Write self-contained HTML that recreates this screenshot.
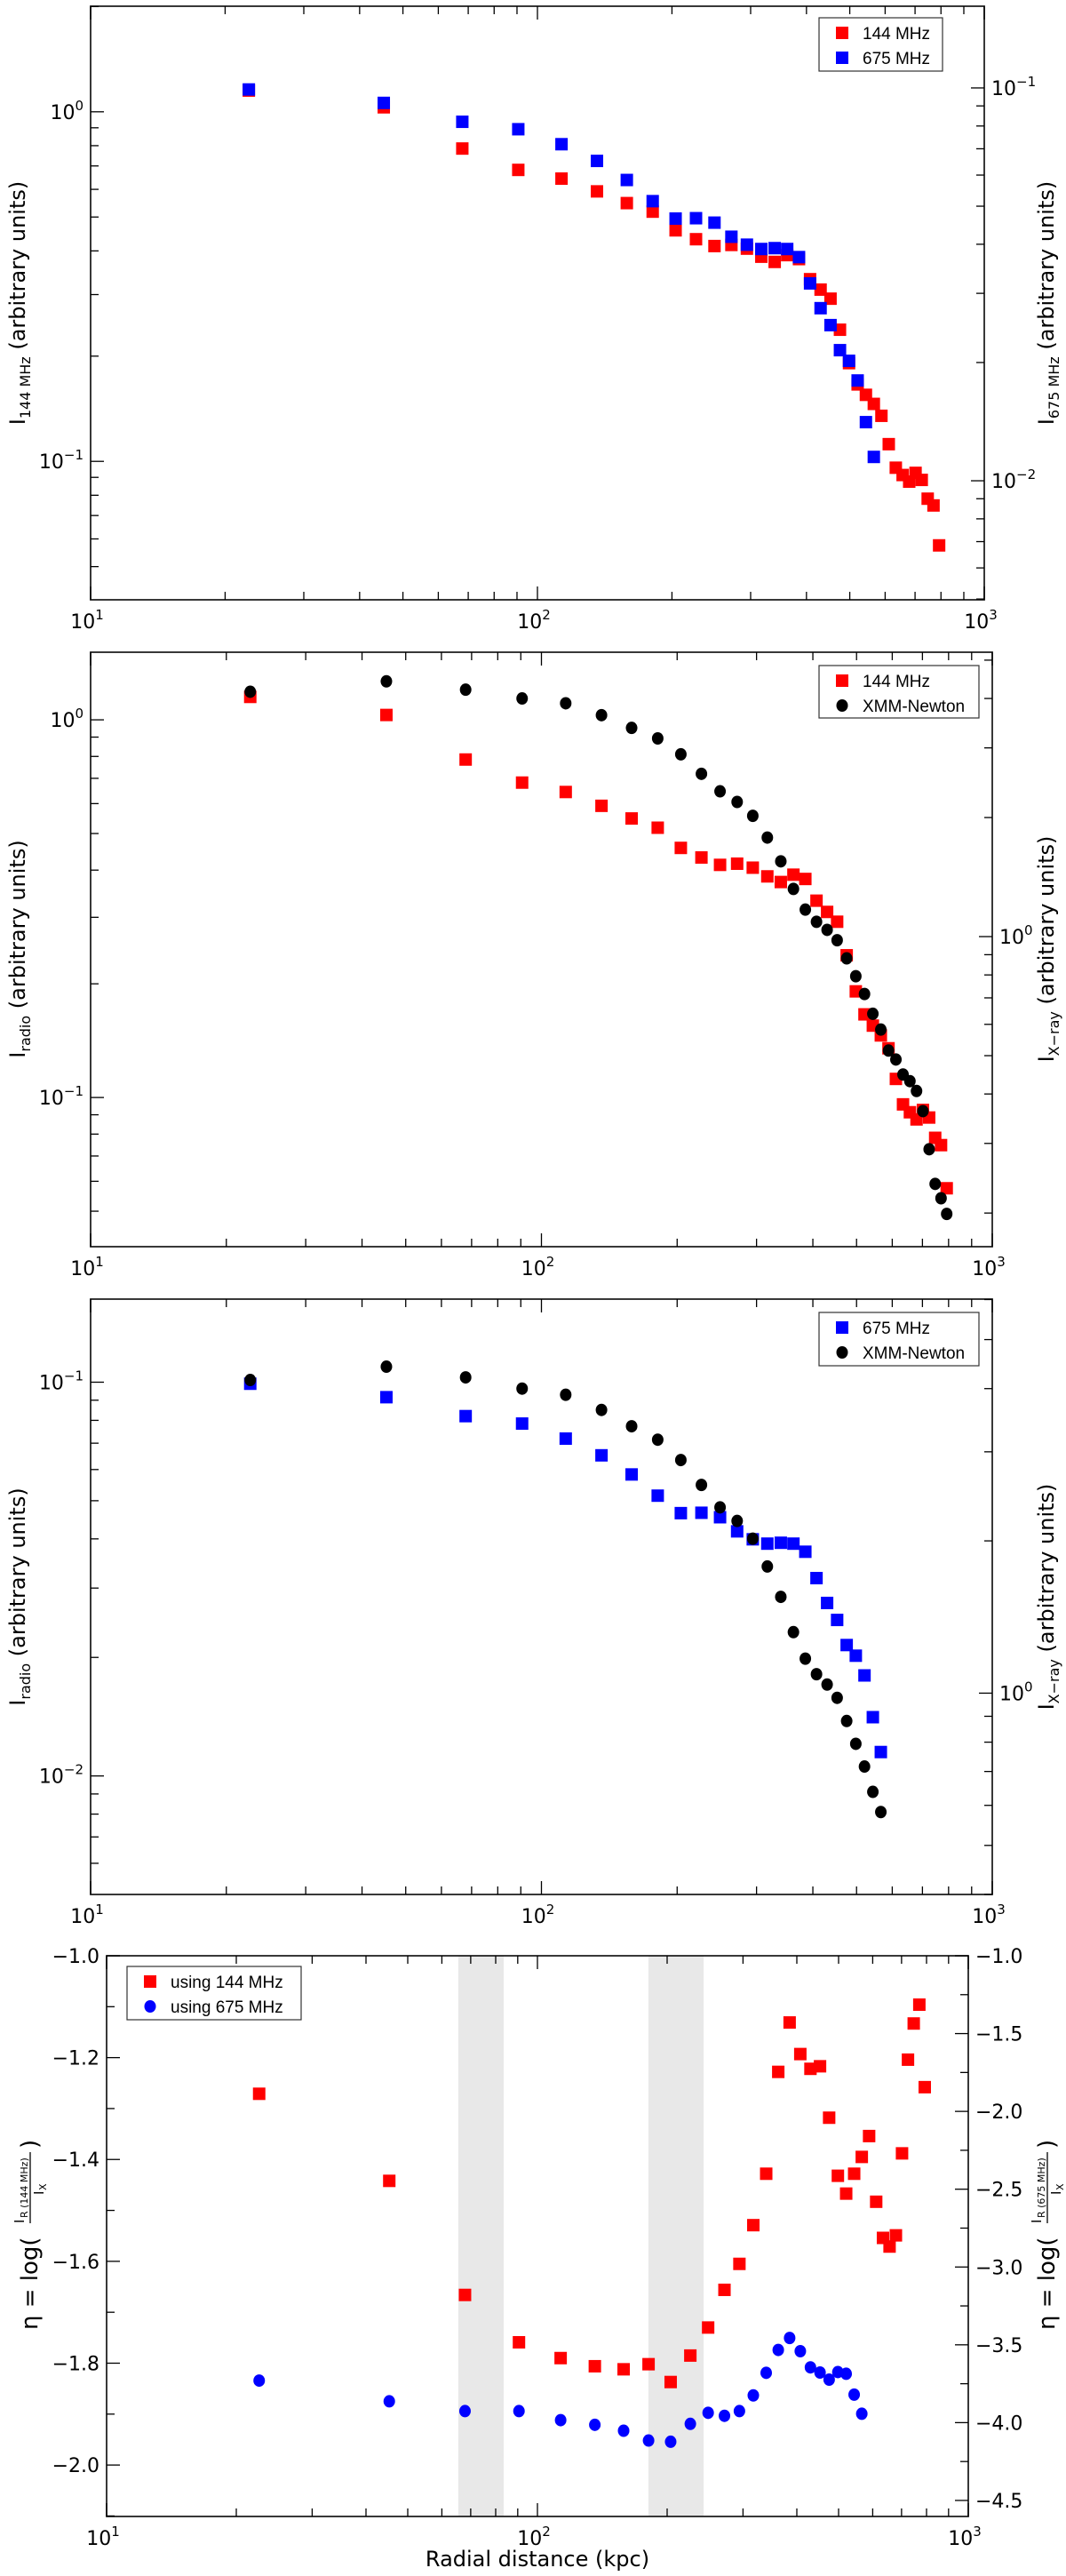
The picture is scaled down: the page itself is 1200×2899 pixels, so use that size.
<!DOCTYPE html>
<html><head><meta charset="utf-8"><title>Radial profiles</title>
<style>
html,body{margin:0;padding:0;background:#fff;}
svg{display:block;font-family:"DejaVu Sans","Liberation Sans",sans-serif;}
.leg{font-family:"Liberation Sans Narrow","Liberation Sans",sans-serif;}
</style></head>
<body>
<svg id="fig" width="1200" height="2899" viewBox="0 0 1200 2899" xmlns="http://www.w3.org/2000/svg"></svg>
<script>
// ---- data ----
const radii=[22.6,45.3,67.9,90.6,113.2,135.9,158.5,181.1,203.8,226.4,249.0,271.7,294.3,317.0,339.6,362.2,384.9,407.5,430.2,452.8,475.4,498.1,520.7,543.4,566.0,588.6,611.3,633.9,656.6,679.2,701.8,724.5,747.1,769.8,792.4];
const radio144=[1.15,1.03,0.785,0.682,0.644,0.592,0.548,0.518,0.458,0.432,0.413,0.416,0.406,0.385,0.372,0.389,0.379,0.332,0.310,0.292,0.238,0.191,0.166,0.155,0.146,0.135,0.112,0.0959,0.0914,0.0875,0.0927,0.0885,0.0782,0.0748,0.0575];
const radio675=[0.0991,0.0916,0.0820,0.0785,0.0719,0.0652,0.0583,0.0515,0.0465,0.0466,0.0454,0.0418,0.0399,0.0389,0.0391,0.0389,0.0371,0.0318,0.0275,0.0249,0.0215,0.0202,0.0180,0.0141,0.0115];
const xray=[4.16,4.42,4.21,4.00,3.89,3.63,3.37,3.17,2.89,2.58,2.33,2.19,2.02,1.78,1.55,1.32,1.17,1.09,1.04,0.979,0.881,0.794,0.716,0.638,0.582,0.515,0.489,0.448,0.431,0.407,0.362,0.290,0.237,0.218,0.199];
const eta144=[-1.271,-1.442,-1.666,-1.759,-1.790,-1.806,-1.812,-1.802,-1.837,-1.785,-1.730,-1.656,-1.605,-1.529,-1.428,-1.228,-1.131,-1.193,-1.222,-1.217,-1.318,-1.432,-1.467,-1.428,-1.395,-1.354,-1.483,-1.554,-1.571,-1.549,-1.388,-1.204,-1.133,-1.096,-1.258];
const eta675=[-3.730,-3.863,-3.926,-3.926,-3.984,-4.014,-4.052,-4.115,-4.123,-4.008,-3.937,-3.956,-3.926,-3.825,-3.680,-3.533,-3.456,-3.541,-3.645,-3.678,-3.724,-3.675,-3.686,-3.820,-3.943];
const shadedBands=[[65.5,83.5],[181,243]];
const xTickLabels=["1","2","3"];

const NS="http://www.w3.org/2000/svg";
const svg=document.getElementById('fig');
function mk(tag,attrs,parent){const e=document.createElementNS(NS,tag);for(const k in attrs)e.setAttribute(k,attrs[k]);(parent||svg).appendChild(e);return e;}
function lg(v){return Math.log10(v);}

const panels=[
 {id:'p1',x0:102,x1:1108,y0:7,y1:675,L:[-1.396,0.302],R:[-2.303,-0.792],log:true},
 {id:'p2',x0:102,x1:1117,y0:734,y1:1403,L:[-1.395,0.179],R:[-0.784,0.719],log:true},
 {id:'p3',x0:102,x1:1117,y0:1462,y1:2132,L:[-2.301,-0.789],R:[-0.398,0.779],log:true},
 {id:'p4',x0:120,x1:1090,y0:2201,y1:2832,L:[-2.101,-1.0],R:[-4.603,-1.0],log:false}
];
panels.forEach(p=>{
 p.sx=v=>p.x0+(lg(v)-1)/2*(p.x1-p.x0);
 p.syL=v=>{const t=p.log?lg(v):v;return p.y1-(t-p.L[0])/(p.L[1]-p.L[0])*(p.y1-p.y0);};
 p.syR=v=>{const t=p.log?lg(v):v;return p.y1-(t-p.R[0])/(p.R[1]-p.R[0])*(p.y1-p.y0);};
});

function supLabel(g,x,y,exp,anchor){
 const t=mk('text',{x:x,y:y,'font-size':22,'text-anchor':anchor,fill:'#000'},g);
 t.appendChild(document.createTextNode('10'));
 const s=mk('tspan',{dy:-10,'font-size':15},t);
 s.textContent=exp;
 return t;
}
function logTicks(g,p,range,side,scale){
 const lo=Math.floor(range[0]),hi=Math.ceil(range[1]);
 for(let d=lo;d<=hi;d++){for(let m=1;m<=9;m++){
  const v=m*Math.pow(10,d),l=lg(v);
  if(l<range[0]-1e-6||l>range[1]+1e-6)continue;
  const y=scale(v),len=m===1?15:9;
  const x=side==='L'?p.x0:p.x1,dx=side==='L'?len:-len;
  const tk=mk('line',{x1:x,y1:y,x2:x+dx,y2:y,stroke:'#000','stroke-width':1.3},g);
  
  
  if(m===1){
   const lab=side==='L'?supLabel(g,p.x0-8,y+8,(d<0?'\u2212':'')+Math.abs(d),'end'):supLabel(g,p.x1+8,y+8,(d<0?'\u2212':'')+Math.abs(d),'start');
   
   
  }
 }}
}
function linTicks(g,p,range,step,side,scale){
 const n0=Math.ceil(range[0]/step-1e-6),n1=Math.floor(range[1]/step+1e-6);
 for(let n=n0;n<=n1;n++){
  const v=n*step;
  const y=scale(v),isMajor=(Math.round(n)%2===0);
  const len=isMajor?15:9;
  const x=side==='L'?p.x0:p.x1,dx=side==='L'?len:-len;
  const tk=mk('line',{x1:x,y1:y,x2:x+dx,y2:y,stroke:'#000','stroke-width':1.3},g);
  
  
  if(isMajor){
   const txt=(v<0?'\u2212':'')+Math.abs(v).toFixed(1);
   const lab=mk('text',{x:side==='L'?p.x0-8:p.x1+8,y:y+8,'font-size':22,'text-anchor':side==='L'?'end':'start'},g);
   lab.textContent=txt;
   
   
  }
 }
}
function xAxis(g,p){
 for(let d=1;d<=3;d++){for(let m=1;m<=9;m++){
  const v=m*Math.pow(10,d);if(lg(v)>3+1e-6)continue;
  const x=p.sx(v),len=m===1?15:9;
  const b=mk('line',{x1:x,y1:p.y1,x2:x,y2:p.y1-len,stroke:'#000','stroke-width':1.3},g);
  
  
  const t=mk('line',{x1:x,y1:p.y0,x2:x,y2:p.y0+len,stroke:'#000','stroke-width':1.3},g);
  
  
 }}
 xTickLabels.forEach((e,i)=>{
  const lab=supLabel(g,p.sx(Math.pow(10,i+1))-4,p.y1+32,e,'middle');
  
  
 });
}
function square(g,x,y,color,name){
 const r=mk('rect',{x:x-7,y:y-7,width:14,height:14,fill:color},g);
 
 
}
function dot(g,x,y,color,name){
 const c=mk('ellipse',{cx:x,cy:y,rx:6.5,ry:7,fill:color},g);
 
 
}
function yTitle(g,x,y,main,sub,rest){
 const t=mk('text',{x:0,y:0,'font-size':24,'text-anchor':'middle',transform:`translate(${x},${y}) rotate(-90)`},g);
 t.appendChild(document.createTextNode(main));
 const s=mk('tspan',{dy:6,'font-size':16},t);s.textContent=sub;
 const r=mk('tspan',{dy:-6,'font-size':24},t);r.textContent=rest;
 return t;
}
function legend(g,bx,by,bw,bh,items){
 const box=mk('rect',{x:bx,y:by,width:bw,height:bh,fill:'#fff',stroke:'#333','stroke-width':1.2},g);
 
 
 items.forEach((it,i)=>{
  const cy=by+15+i*28+2;
  if(it.shape==='sq')square(g,bx+26,cy,it.color,'legend-marker');else dot(g,bx+26,cy,it.color,'legend-marker');
  const t=mk('text',{x:bx+49,y:cy+7,'font-size':19,class:'leg'},g);
  t.textContent=it.label;
  
  
 });
}

panels.forEach(p=>{
 const g=mk('g',{});
 
 
 if(p.id==='p4'){
  shadedBands.forEach(b=>{
   const r=mk('rect',{x:p.sx(b[0]),y:p.y0,width:p.sx(b[1])-p.sx(b[0]),height:p.y1-p.y0,fill:'#e8e8e8'},g);
   
   
  });
 }
 const fr=mk('rect',{x:p.x0,y:p.y0,width:p.x1-p.x0,height:p.y1-p.y0,fill:'none',stroke:'#222','stroke-width':1.8},g);
 
 
 xAxis(g,p);
 if(p.log){logTicks(g,p,p.L,'L',p.syL);logTicks(g,p,p.R,'R',p.syR);}
 else{linTicks(g,p,p.L,0.1,'L',p.syL);linTicks(g,p,p.R,0.25,'R',p.syR);}
 p.g=g;
});

// Panel 1
(function(){const p=panels[0],g=p.g;
 radio144.forEach((v,i)=>square(g,p.sx(radii[i]),p.syL(v),'#ff0000','point-144mhz'));
 radio675.forEach((v,i)=>square(g,p.sx(radii[i]),p.syR(v),'#0000ff','point-675mhz'));
 let t=yTitle(g,28,341,'I','144 MHz',' (arbitrary units)');
 t=yTitle(g,1186,341,'I','675 MHz',' (arbitrary units)');
 legend(g,922,20,139,60,[{shape:'sq',color:'#ff0000',label:'144 MHz'},{shape:'sq',color:'#0000ff',label:'675 MHz'}]);
})();
// Panel 2
(function(){const p=panels[1],g=p.g;
 radio144.forEach((v,i)=>square(g,p.sx(radii[i]),p.syL(v),'#ff0000','point-144mhz'));
 xray.forEach((v,i)=>dot(g,p.sx(radii[i]),p.syR(v),'#000000','point-xmm'));
 let t=yTitle(g,28,1068,'I','radio',' (arbitrary units)');
 t=yTitle(g,1186,1068,'I','X\u2212ray',' (arbitrary units)');
 legend(g,922,749,180,59,[{shape:'sq',color:'#ff0000',label:'144 MHz'},{shape:'dot',color:'#000',label:'XMM-Newton'}]);
})();
// Panel 3
(function(){const p=panels[2],g=p.g;
 radio675.forEach((v,i)=>square(g,p.sx(radii[i]),p.syL(v),'#0000ff','point-675mhz'));
 xray.slice(0,radio675.length).forEach((v,i)=>dot(g,p.sx(radii[i]),p.syR(v),'#000000','point-xmm'));
 let t=yTitle(g,28,1797,'I','radio',' (arbitrary units)');
 t=yTitle(g,1186,1797,'I','X\u2212ray',' (arbitrary units)');
 legend(g,922,1477,180,60,[{shape:'sq',color:'#0000ff',label:'675 MHz'},{shape:'dot',color:'#000',label:'XMM-Newton'}]);
})();
// Panel 4
(function(){const p=panels[3],g=p.g;
 eta144.forEach((v,i)=>square(g,p.sx(radii[i]),p.syL(v),'#ff0000','eta-144mhz-point'));
 eta675.forEach((v,i)=>dot(g,p.sx(radii[i]),p.syR(v),'#0000ff','eta-675mhz-point'));
 function etaTitle(x,sub,name){
  const tg=mk('g',{transform:`translate(${x},2500) rotate(-90)`},g);
  
  
  const a=mk('text',{x:-122,y:0,'font-size':26},tg);a.textContent='\u03b7 = log(';
  const n=mk('text',{x:-2,y:-15,'font-size':15},tg);n.textContent='I';
  const ns=mk('text',{x:4,y:-11,'font-size':11},tg);ns.textContent='R (144 MHz)'.replace('144',sub);
  mk('line',{x1:-2,y1:-8,x2:78,y2:-8,stroke:'#000','stroke-width':1.3},tg);
  const d=mk('text',{x:30,y:7,'font-size':15},tg);d.textContent='I';
  const ds=mk('text',{x:35,y:10,'font-size':11},tg);ds.textContent='X';
  const c=mk('text',{x:82,y:0,'font-size':26},tg);c.textContent=')';
 }
 etaTitle(42,'144','left-y-axis-title');
 etaTitle(1187,'675','right-y-axis-title');
 legend(g,143,2213,196,60,[{shape:'sq',color:'#ff0000',label:'using 144 MHz'},{shape:'dot',color:'#0000ff',label:'using 675 MHz'}]);
 const xl=mk('text',{x:605,y:2888,'font-size':24,'text-anchor':'middle'},g);
 xl.textContent='Radial distance (kpc)';
 
 
})();
</script>
</body></html>
